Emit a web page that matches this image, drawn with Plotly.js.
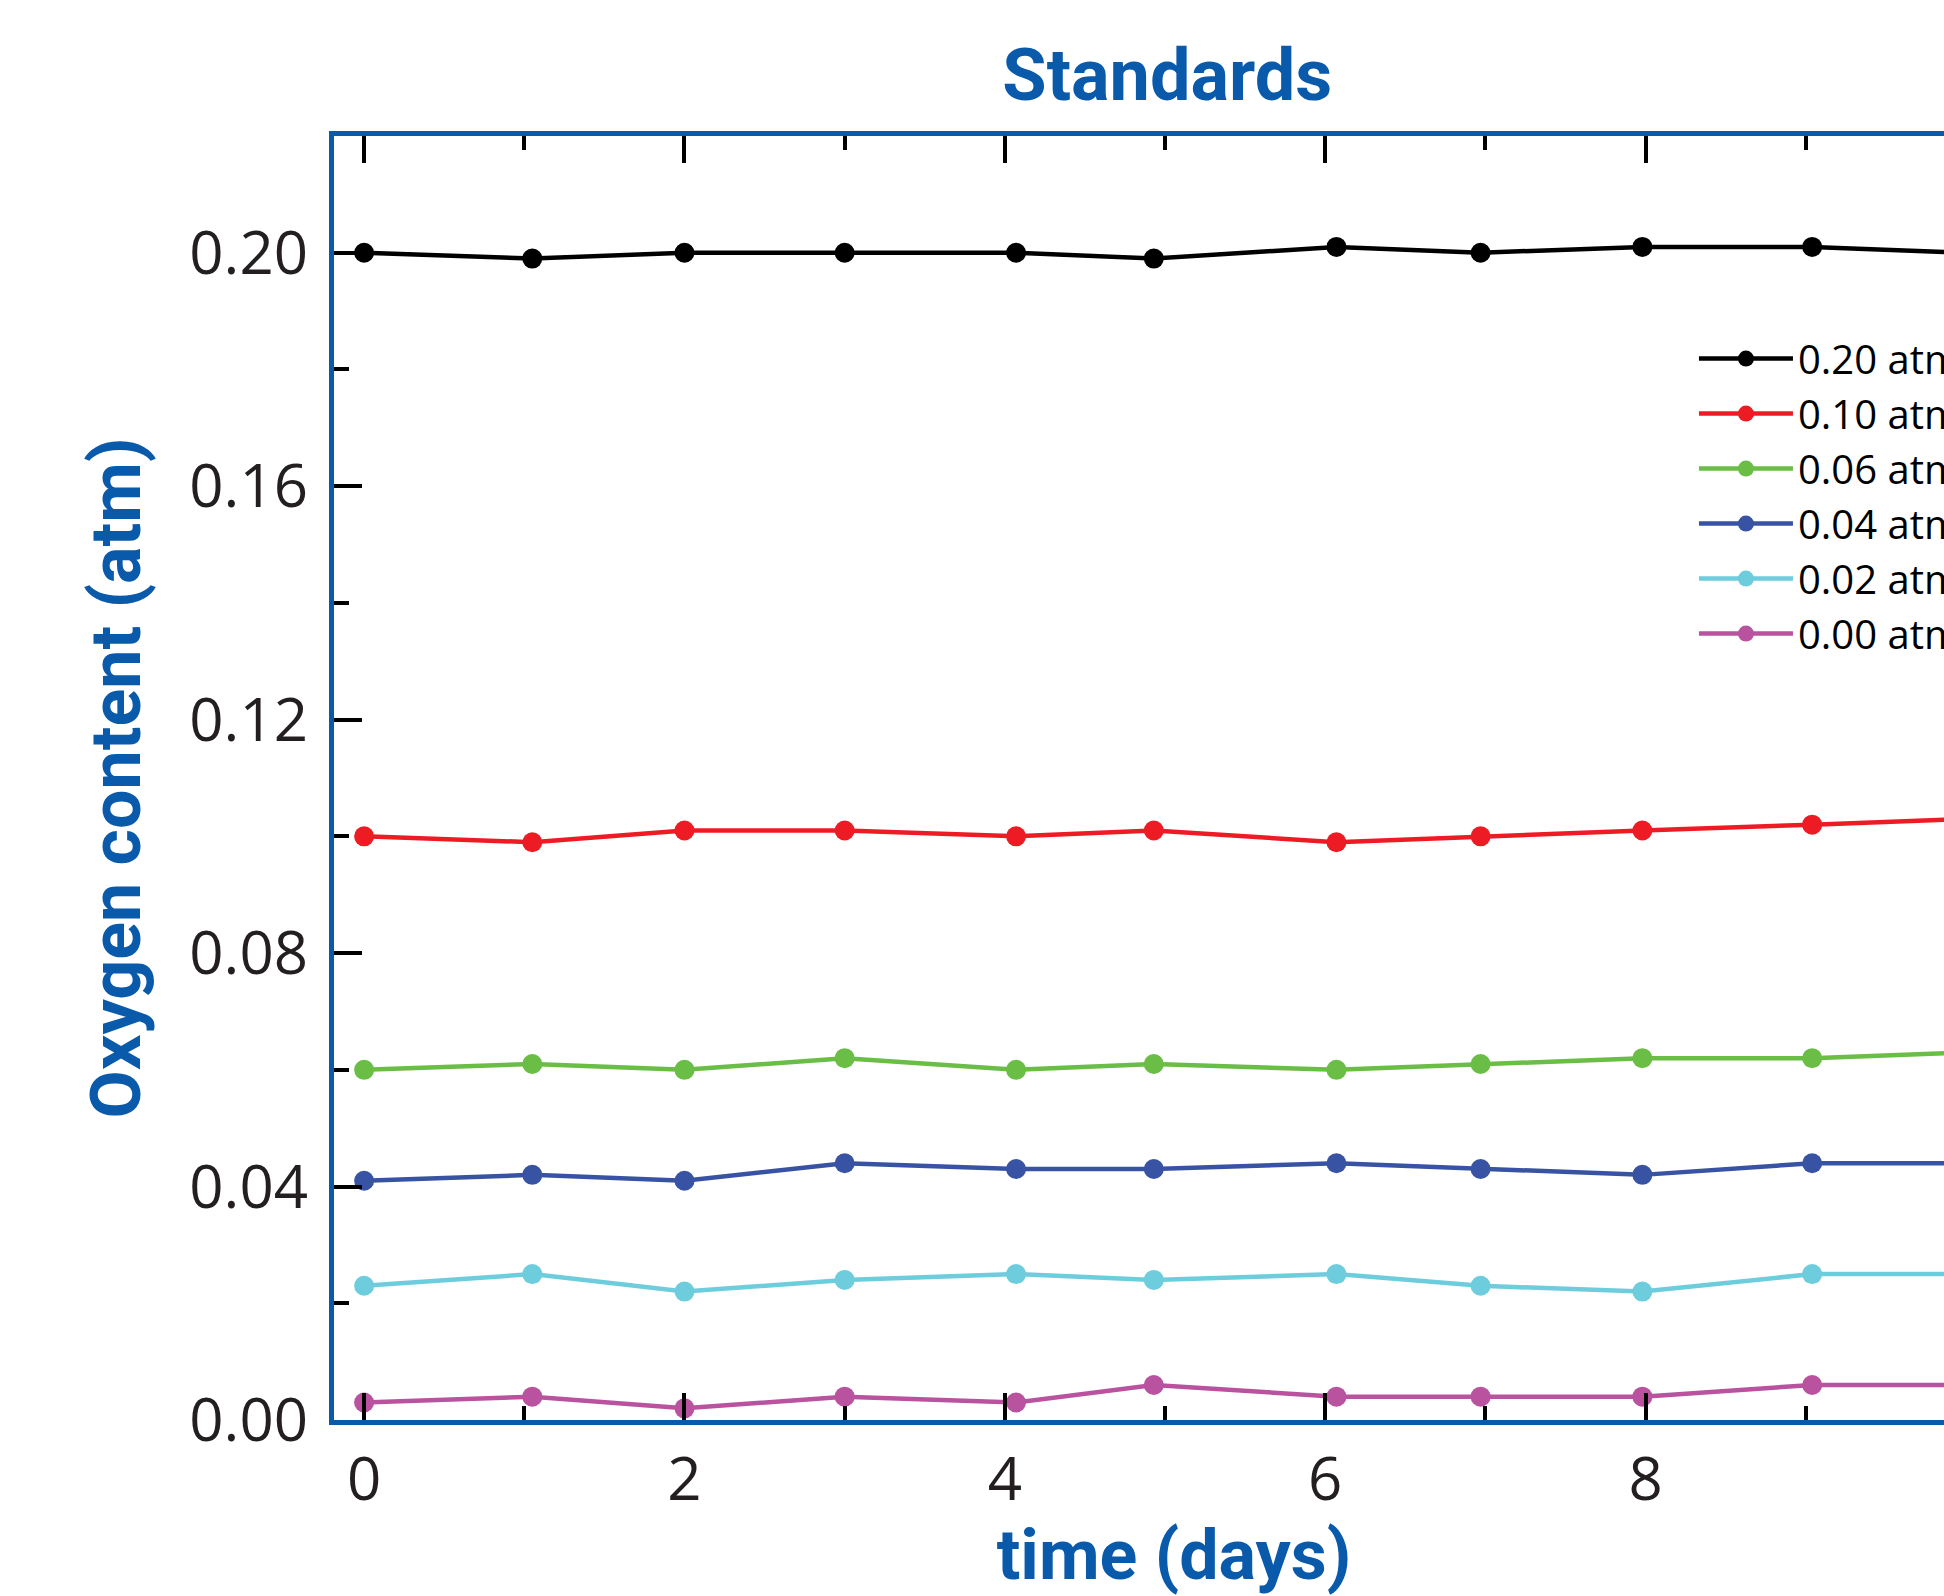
<!DOCTYPE html>
<html>
<head>
<meta charset="utf-8">
<script src="https://cdn.plot.ly/plotly-3.0.1.min.js"></script>
<style>
  html, body { margin: 0; padding: 0; overflow: hidden; background: #ffffff; }
  #chart { width: 2114px; height: 1596px; }
</style>
</head>
<body>
<div id="chart"></div>
<script>
// time of each measurement (days)
const timeDays = [0, 1.05, 2.0, 3.0, 4.07, 4.93, 6.07, 6.97, 7.98, 9.04, 10.0];

// oxygen content (atm) per standard
const std020 = [0.200, 0.199, 0.200, 0.200, 0.200, 0.199, 0.201, 0.200, 0.201, 0.201, 0.200];
const std010 = [0.100, 0.099, 0.101, 0.101, 0.100, 0.101, 0.099, 0.100, 0.101, 0.102, 0.103];
const std006 = [0.060, 0.061, 0.060, 0.062, 0.060, 0.061, 0.060, 0.061, 0.062, 0.062, 0.063];
const std004 = [0.041, 0.042, 0.041, 0.044, 0.043, 0.043, 0.044, 0.043, 0.042, 0.044, 0.044];
const std002 = [0.023, 0.025, 0.022, 0.024, 0.025, 0.024, 0.025, 0.023, 0.022, 0.025, 0.025];
const std000 = [0.003, 0.004, 0.002, 0.004, 0.003, 0.006, 0.004, 0.004, 0.004, 0.006, 0.006];

const seriesNames = ['0.20 atm', '0.10 atm', '0.06 atm', '0.04 atm', '0.02 atm', '0.00 atm'];
const seriesValues = [std020, std010, std006, std004, std002, std000];
const seriesColors = ['#000000', '#ed1c24', '#6abd45', '#3953a4', '#6dcddd', '#b9529f'];

// labelled x ticks (the tick at 10 lies past the visible edge)
const xTickVals = [0, 2, 4, 6, 8];
const xTickText = ['0', '2', '4', '6', '8'];

const axisBlue = '#0a5aab';
const textDark = '#231f20';

const traces = seriesValues.map((vals, i) => ({
  type: 'scatter',
  mode: 'lines+markers',
  x: timeDays,
  y: vals,
  name: seriesNames[i],
  line: { color: seriesColors[i], width: 4.5 },
  marker: { color: seriesColors[i], size: 20 },
  cliponaxis: true
}));

const tickFont = { family: 'Open Sans, sans-serif', size: 60, color: textDark };
const titleFont = { family: 'Roboto, sans-serif', size: 70, weight: 700, color: axisBlue };

const layout = {
  width: 2114,
  height: 1596,
  margin: { l: 334, r: 100, t: 136, b: 176, autoexpand: false },
  paper_bgcolor: '#ffffff',
  plot_bgcolor: '#ffffff',
  showlegend: true,
  title: {
    text: 'Standards',
    font: { family: 'Roboto, sans-serif', size: 72, weight: 700, color: axisBlue },
    x: 0.496, xref: 'paper', xanchor: 'center',
    y: 1 - 75 / 1596, yref: 'container', yanchor: 'middle'
  },
  xaxis: {
    range: [-0.188, 10.3],
    showgrid: false, zeroline: false,
    showline: true, linecolor: axisBlue, linewidth: 5, mirror: 'ticks',
    ticks: 'inside', ticklen: 27, tickwidth: 4, tickcolor: '#000000',
    tickmode: 'array', tickvals: xTickVals, ticktext: xTickText,
    minor: { tick0: 0, dtick: 1, ticks: 'inside', ticklen: 14, tickwidth: 4, tickcolor: '#000000', showgrid: false },
    tickfont: tickFont,
    ticklabelstandoff: 3,
    title: { text: 'time (days)', font: titleFont, standoff: 29 }
  },
  yaxis: {
    range: [0, 0.22],
    showgrid: false, zeroline: false,
    showline: true, linecolor: axisBlue, linewidth: 5, mirror: 'ticks',
    ticks: 'inside', ticklen: 28, tickwidth: 4, tickcolor: '#000000',
    tick0: 0, dtick: 0.04, tickformat: '.2f',
    minor: { tick0: 0, dtick: 0.02, ticks: 'inside', ticklen: 15, tickwidth: 4, tickcolor: '#000000', showgrid: false },
    tickfont: tickFont,
    ticklabelstandoff: 9,
    title: { text: 'Oxygen content (atm)', font: titleFont, standoff: 27 }
  },
  legend: {
    x: 0.8095, xref: 'paper', xanchor: 'left',
    y: 0.852, yref: 'paper', yanchor: 'top',
    bgcolor: 'rgba(0,0,0,0)', borderwidth: 0,
    font: { family: 'Open Sans, sans-serif', size: 40, color: '#000000' },
    itemwidth: 94,
    tracegroupgap: 0
  }
};

Plotly.newPlot('chart', traces, layout, { displayModeBar: false, staticPlot: true });
</script>
</body>
</html>
